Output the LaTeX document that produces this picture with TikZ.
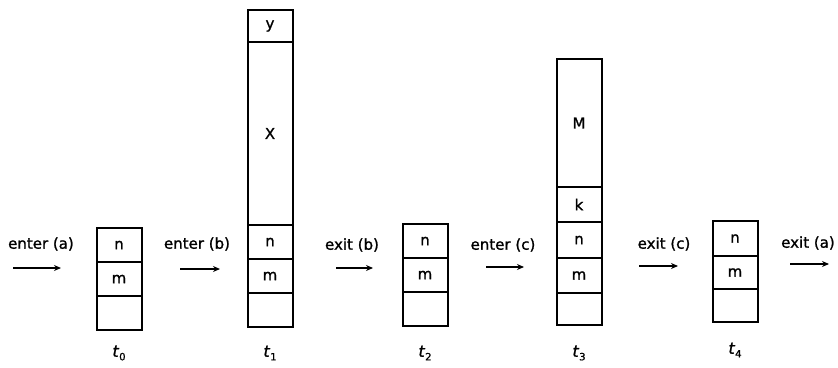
\documentclass[tikz,border=0pt]{standalone}
\usepackage{fontspec}
\setmainfont[FakeBold=1.2]{DejaVu Sans}
\usetikzlibrary{arrows.meta}
\newcommand{\tsub}[1]{\textit{t}\raisebox{-3.5pt}{\fontsize{10}{12}\selectfont #1}}
\begin{document}
\begin{tikzpicture}[x=1pt,y=-1pt,
  cell/.style={draw,line width=2pt,outer sep=0pt,minimum width=45pt,inner sep=0pt,anchor=south,font=\fontsize{15}{17}\selectfont},
  lbl/.style={font=\fontsize{15}{18}\selectfont,inner sep=0pt},
  tl/.style={font=\fontsize{16}{18}\selectfont,inner sep=0pt},
  arr/.style={line width=1.8pt,-{Stealth[length=7pt,width=6pt]}}]
\useasboundingbox (0,0) rectangle (838,367);
% t0
\node[cell,minimum height=34pt] (e0) at (119,330) {};
\node[cell,minimum height=34pt] (m0) at (e0.north) {m};
\node[cell,minimum height=34pt] (n0) at (m0.north) {n};
\node[tl] (t0) at (119,353) {\tsub{0}};
% t1
\node[cell,minimum height=34pt] (e1) at (270,327) {};
\node[cell,minimum height=34pt] (m1) at (e1.north) {m};
\node[cell,minimum height=34pt] (n1) at (m1.north) {n};
\node[cell,minimum height=183pt] (x1) at (n1.north) {X};
\node[cell,minimum height=32pt] (y1) at (x1.north) {y};
\node[tl] (t1) at (270,353) {\tsub{1}};
% t2
\node[cell,minimum height=34pt] (e2) at (425,326) {};
\node[cell,minimum height=34pt] (m2) at (e2.north) {m};
\node[cell,minimum height=34pt] (n2) at (m2.north) {n};
\node[tl] (t2) at (425,353) {\tsub{2}};
% t3
\node[cell,minimum height=32pt] (e3) at (579,325) {};
\node[cell,minimum height=35pt] (m3) at (e3.north) {m};
\node[cell,minimum height=36pt] (n3) at (m3.north) {n};
\node[cell,minimum height=35pt] (k3) at (n3.north) {k};
\node[cell,minimum height=128pt] (M3) at (k3.north) {M};
\node[tl] (t3) at (579,353) {\tsub{3}};
% t4
\node[cell,minimum height=33pt] (e4) at (735,322) {};
\node[cell,minimum height=33pt] (m4) at (e4.north) {m};
\node[cell,minimum height=35pt] (n4) at (m4.north) {n};
\node[tl] (t4) at (735,350) {\tsub{4}};
% transitions
\node[lbl] (la) at (41,244) {enter (a)};
\coordinate (a1) at (13,268); \coordinate (a2) at (61,268);
\draw[arr] (a1) -- (a2);
\node[lbl] (lb) at (197,244) {enter (b)};
\coordinate (b1) at (180,269); \coordinate (b2) at (220,269);
\draw[arr] (b1) -- (b2);
\node[lbl] (lc) at (352,245) {exit (b)};
\coordinate (c1) at (336,268); \coordinate (c2) at (373,268);
\draw[arr] (c1) -- (c2);
\node[lbl] (ld) at (503,245) {enter (c)};
\coordinate (d1) at (486,267); \coordinate (d2) at (524,267);
\draw[arr] (d1) -- (d2);
\node[lbl] (le) at (664,244) {exit (c)};
\coordinate (f1) at (639,266); \coordinate (f2) at (678,266);
\draw[arr] (f1) -- (f2);
\node[lbl] (lf) at (808,243) {exit (a)};
\coordinate (g1) at (790,264); \coordinate (g2) at (829,264);
\draw[arr] (g1) -- (g2);
\end{tikzpicture}
\end{document}
